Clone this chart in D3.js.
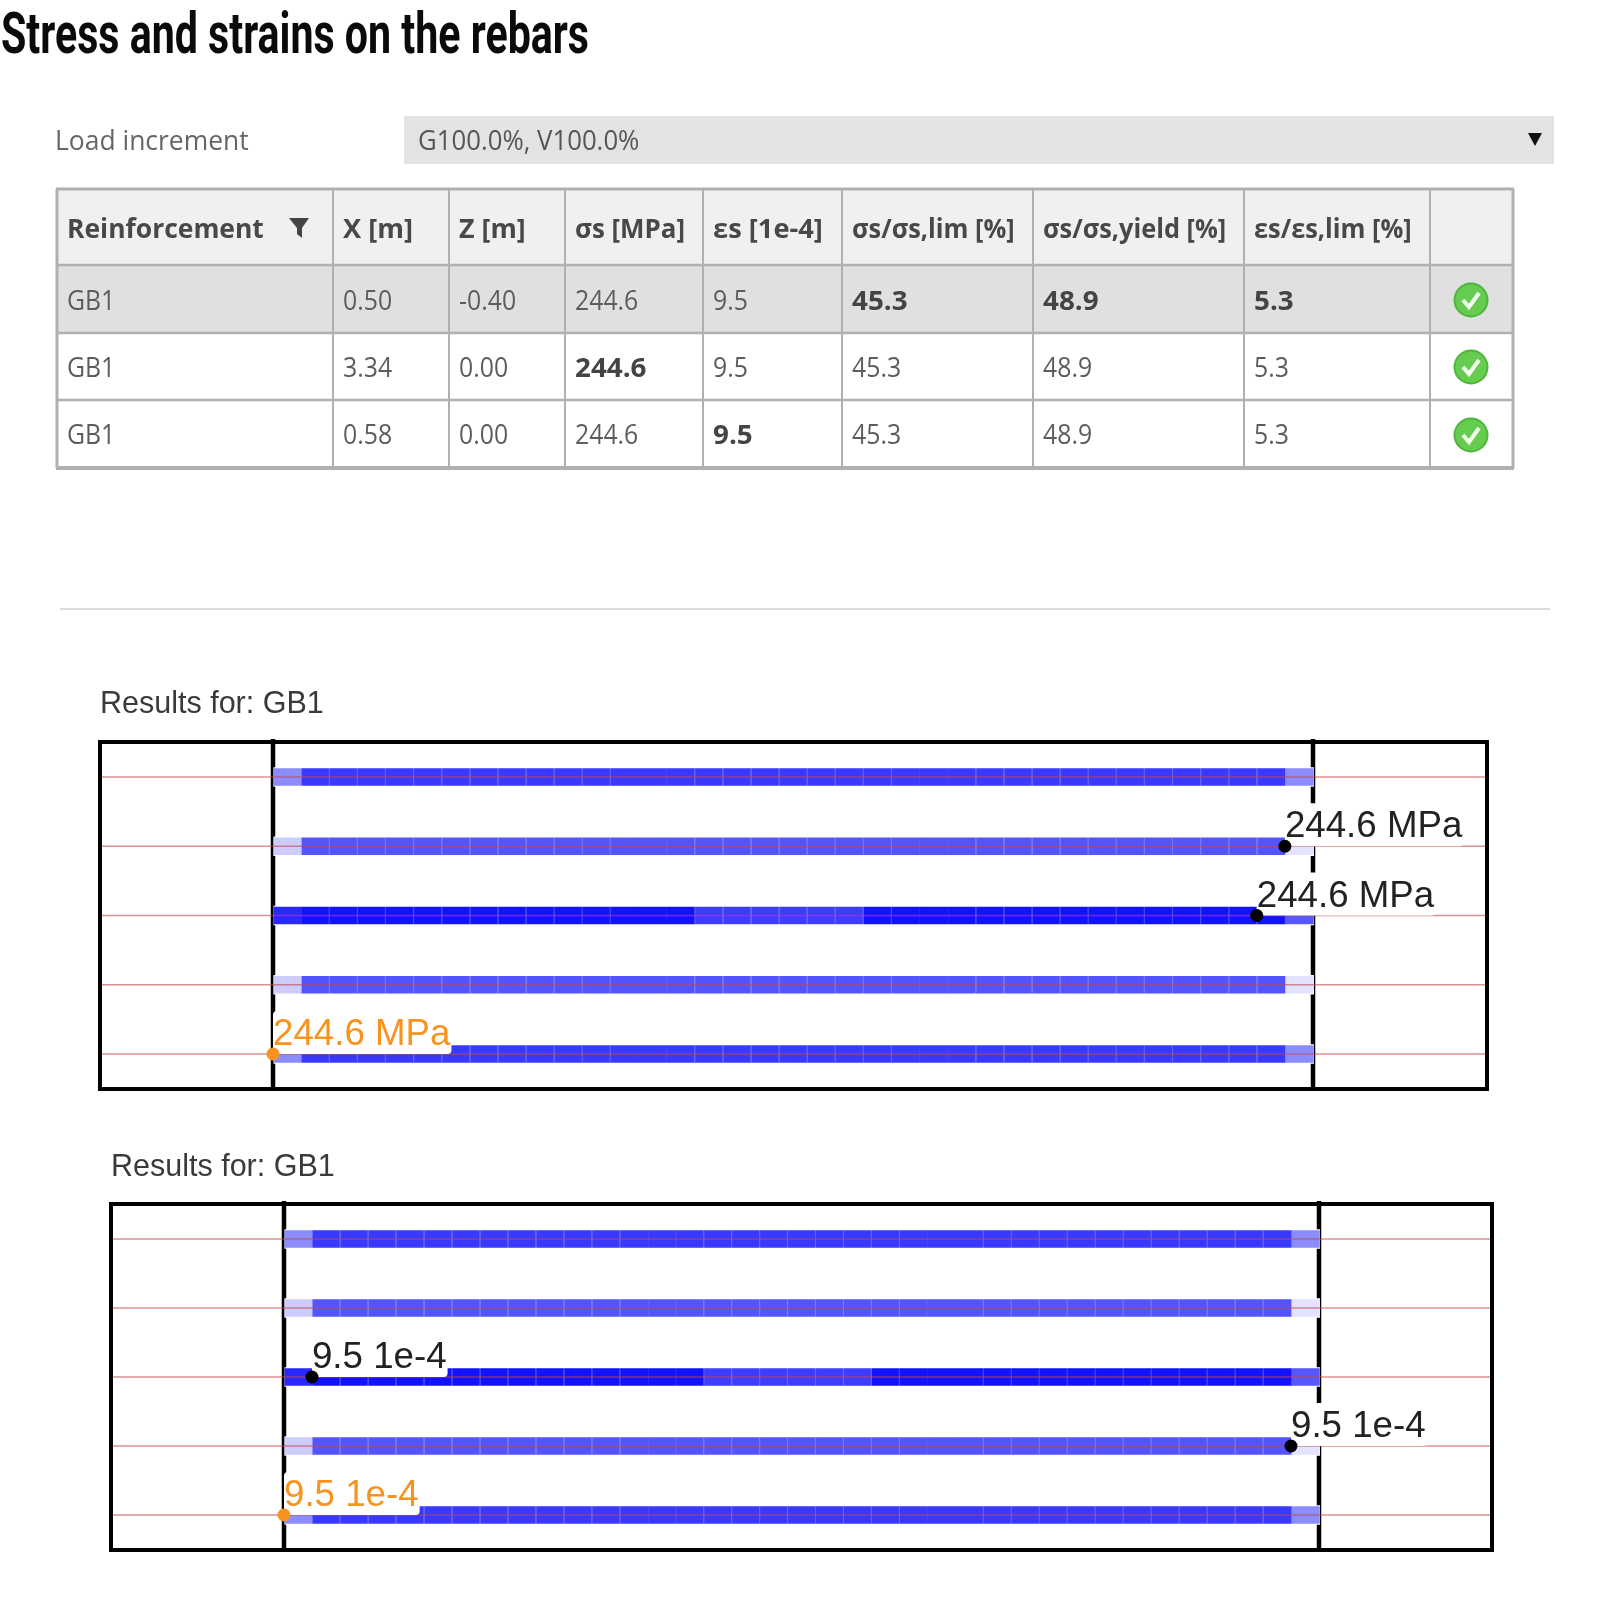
<!DOCTYPE html>
<html><head><meta charset="utf-8">
<script src="https://cdn.jsdelivr.net/npm/d3@7"></script>
<style>html,body{margin:0;padding:0;background:#fff}svg{display:block;filter:blur(0.7px)}</style>
</head><body>
<div id="chart"></div>
<script>
// ---------- data ----------
const pageTitle = "Stress and strains on the rebars";
const loadLabel = "Load increment";
const loadValue = "G100.0%, V100.0%";
const columns = ["Reinforcement","X [m]","Z [m]","σs [MPa]","εs [1e-4]","σs/σs,lim [%]","σs/σs,yield [%]","εs/εs,lim [%]",""];
const rowReinf = ["GB1","GB1","GB1"];
const rowX = ["0.50","3.34","0.58"];
const rowZ = ["-0.40","0.00","0.00"];
const rowStress = ["244.6","244.6","244.6"];
const rowStrain = ["9.5","9.5","9.5"];
const rowStressLim = ["45.3","45.3","45.3"];
const rowStressYield = ["48.9","48.9","48.9"];
const rowStrainLim = ["5.3","5.3","5.3"];
const boldCells = [[5,6,7],[3],[4]];
// intensity per station along each rebar (37 stations, read from the shades)
const rebar1 = [.45,.78,.78,.78,.78,.78,.78,.78,.78,.78,.78,.78,.78,.78,.78,.78,.78,.78,.78,.78,.78,.78,.78,.78,.78,.78,.78,.78,.78,.78,.78,.78,.78,.78,.78,.78,.45];
const rebar2 = [.2,.67,.67,.67,.67,.67,.67,.67,.67,.67,.67,.67,.67,.67,.67,.67,.67,.67,.67,.67,.67,.67,.67,.67,.67,.67,.67,.67,.67,.67,.67,.67,.67,.67,.67,.67,.11];
const rebar3 = [.84,.93,.93,.93,.93,.93,.93,.93,.93,.93,.93,.93,.93,.93,.93,.76,.76,.76,.76,.76,.76,.93,.93,.93,.93,.93,.93,.93,.93,.93,.93,.93,.93,.93,.93,.93,.66];
const rebar4 = [.2,.67,.67,.67,.67,.67,.67,.67,.67,.67,.67,.67,.67,.67,.67,.67,.67,.67,.67,.67,.67,.67,.67,.67,.67,.67,.67,.67,.67,.67,.67,.67,.67,.67,.67,.67,.11];
const rebar5 = [.45,.78,.78,.78,.78,.78,.78,.78,.78,.78,.78,.78,.78,.78,.78,.78,.78,.78,.78,.78,.78,.78,.78,.78,.78,.78,.78,.78,.78,.78,.78,.78,.78,.78,.78,.78,.45];
const rebars = [rebar1,rebar2,rebar3,rebar4,rebar5];
const seamsHidden = [13,24];
const seamsFaint = [14,23];
const stressMarks = [
  {rebar:1, station:36, label:"244.6 MPa", color:"#000"},
  {rebar:2, station:35, label:"244.6 MPa", color:"#000"},
  {rebar:4, station:0,  label:"244.6 MPa", color:"#f7931e"}];
const strainMarks = [
  {rebar:2, station:1,  label:"9.5 1e-4", color:"#000"},
  {rebar:3, station:36, label:"9.5 1e-4", color:"#000"},
  {rebar:4, station:0,  label:"9.5 1e-4", color:"#f7931e"}];

// ---------- page ----------
const svg = d3.select("#chart").append("svg").attr("width",1600).attr("height",1600);
const UI = "'Open Sans'", TXT="#555";
function uiText(x,y,s,o={}){
  return svg.append("text").attr("transform",`translate(${x},${y}) scale(${o.sx||0.92},1)`)
    .attr("font-family",UI).attr("font-size",o.size||27).attr("font-weight",o.bold?700:400)
    .attr("fill",o.fill||TXT).text(s);
}
svg.append("text").attr("x",1).attr("y",53).attr("font-family","Roboto").attr("font-weight",700)
  .attr("font-size",57).attr("textLength",588).attr("lengthAdjust","spacingAndGlyphs").attr("fill","#0a0a0a").text(pageTitle);

uiText(55,150,loadLabel,{sx:.98,fill:"#666"});
svg.append("rect").attr("x",404).attr("y",116).attr("width",1150).attr("height",48).attr("fill","#e3e3e3");
uiText(418,150,loadValue,{sx:.955,fill:"#555"});
svg.append("path").attr("d",d3.line()([[1528,133],[1542,133],[1535,146]])+"Z").attr("fill","#111");

// ---------- table ----------
const colEdges = [57,333,449,565,703,842,1033,1244,1430,1513];
const rowEdges = [189,265,333,400,468];
const headerStretch = [.98,1.01,.995,.96,1.01,.94,.94,.94];
const tableCols = [rowReinf,rowX,rowZ,rowStress,rowStrain,rowStressLim,rowStressYield,rowStrainLim];
svg.append("rect").attr("x",57).attr("y",189).attr("width",1456).attr("height",76).attr("fill","#f0f0f0");
svg.append("rect").attr("x",57).attr("y",265).attr("width",1456).attr("height",68).attr("fill","#e0e0e0");
colEdges.forEach((x,i)=>svg.append("line").attr("x1",x).attr("x2",x).attr("y1",189).attr("y2",468)
  .attr("stroke","#b0b0b0").attr("stroke-width",(i==0||i==9)?3:2));
rowEdges.forEach((y,i)=>svg.append("line").attr("x1",56).attr("x2",1514).attr("y1",y).attr("y2",y)
  .attr("stroke","#b0b0b0").attr("stroke-width",i==4?4:(i==0?3:2.5)));
columns.forEach((c,i)=>{ if(c) uiText(colEdges[i]+10,238,c,{bold:true,sx:headerStretch[i],fill:"#484848"}); });
svg.append("path").attr("d",d3.line()([[289,218],[309,218],[302,228],[302,238],[297,234],[297,228]])+"Z").attr("fill","#444");
const rowBase=[310,377,444], rowMid=[300,367,435];
rowBase.forEach((b,r)=>{
  tableCols.forEach((col,c)=>{
    const bold = boldCells[r].includes(c);
    uiText(colEdges[c]+10,b,col[r],{bold,sx:bold?1.03:.92,fill:bold?"#444":"#5c5c5c"});
  });
  const g = svg.append("g").attr("transform",`translate(1471,${rowMid[r]})`);
  g.append("circle").attr("r",16.5).attr("fill","#66cc50").attr("stroke","#4fb53c").attr("stroke-width",2);
  g.append("path").attr("d",d3.line()([[-8,0],[-2,7],[8,-7]])).attr("fill","none").attr("stroke","#f4fff0").attr("stroke-width",4);
});
svg.append("line").attr("x1",60).attr("x2",1550).attr("y1",609).attr("y2",609).attr("stroke","#dcdcdc").attr("stroke-width",2);

// ---------- rebar diagrams ----------
const shade = d3.scaleLinear().domain([0,1]).range(["#ffffff","#0000ff"]);
function diagram(o){
  const x = d3.scaleLinear().domain([0,37]).range([o.left,o.right]);
  const y = d3.scalePoint().domain(d3.range(5)).range(o.rows);
  const g = svg.append("g");
  g.append("text").attr("x",o.titleX).attr("y",o.titleY).attr("font-family","'Liberation Sans'")
    .attr("font-size",30.5).attr("fill","#3a3a3a").text("Results for: GB1");
  [o.left,o.right].forEach(v=>g.append("line").attr("x1",v).attr("x2",v).attr("y1",o.y0-3).attr("y2",o.y1+2)
    .attr("stroke","#000").attr("stroke-width",4.5));
  const barH=17.5;
  rebars.forEach((vals,i)=>{
    const b=g.append("g");
    b.append("rect").attr("x",x(0)+.5).attr("width",x(37)-x(0)+.5).attr("y",y(i)-barH/2-1).attr("height",barH+2).attr("fill","#fff");
    b.selectAll("rect.s").data(vals).join("rect").attr("class","s")
      .attr("x",(d,k)=>x(k)+.5).attr("width",(d,k)=>x(k+1)-x(k)+.3)
      .attr("y",y(i)-barH/2).attr("height",barH).attr("fill",d=>shade(d));
    b.selectAll("line").data(d3.range(2,36).filter(k=>!seamsHidden.includes(k))).join("line")
      .attr("x1",k=>x(k)).attr("x2",k=>x(k)).attr("y1",y(i)-barH/2).attr("y2",y(i)+barH/2)
      .attr("stroke","#fff").attr("stroke-width",1.2).attr("stroke-opacity",k=>seamsFaint.includes(k)?.06:.22);
  });
  g.selectAll("line.red").data(d3.range(5)).join("line").attr("class","red")
    .attr("x1",o.x0+2).attr("x2",o.x1-2).attr("y1",i=>y(i)).attr("y2",i=>y(i))
    .attr("stroke","#c04848").attr("stroke-opacity",.6).attr("stroke-width",1.6);
  g.append("rect").attr("x",o.x0).attr("y",o.y0).attr("width",o.x1-o.x0).attr("height",o.y1-o.y0)
    .attr("fill","none").attr("stroke","#000").attr("stroke-width",4);
  o.marks.forEach(m=>{
    const px=x(m.station), py=y(m.rebar), base=py-9;
    const bg=g.append("rect").attr("fill","#fff").attr("rx",4);
    const t=g.append("text").attr("x",px).attr("y",base).attr("font-family","'Liberation Sans'")
      .attr("font-size",36.7).attr("fill",m.color==="#000"?"#222":m.color).text(m.label);
    bg.attr("x",px).attr("y",base-34).attr("width",t.node().getComputedTextLength()+1).attr("height",43);
    g.append("circle").attr("cx",px).attr("cy",py).attr("r",6.5).attr("fill",m.color);
  });
}
diagram({x0:100,x1:1487,y0:742,y1:1089,left:273,right:1313,rows:[777,1054],titleX:100,titleY:713,marks:stressMarks});
diagram({x0:111,x1:1492,y0:1204,y1:1550,left:284,right:1319,rows:[1239,1515],titleX:111,titleY:1176,marks:strainMarks});
</script>
</body></html>
